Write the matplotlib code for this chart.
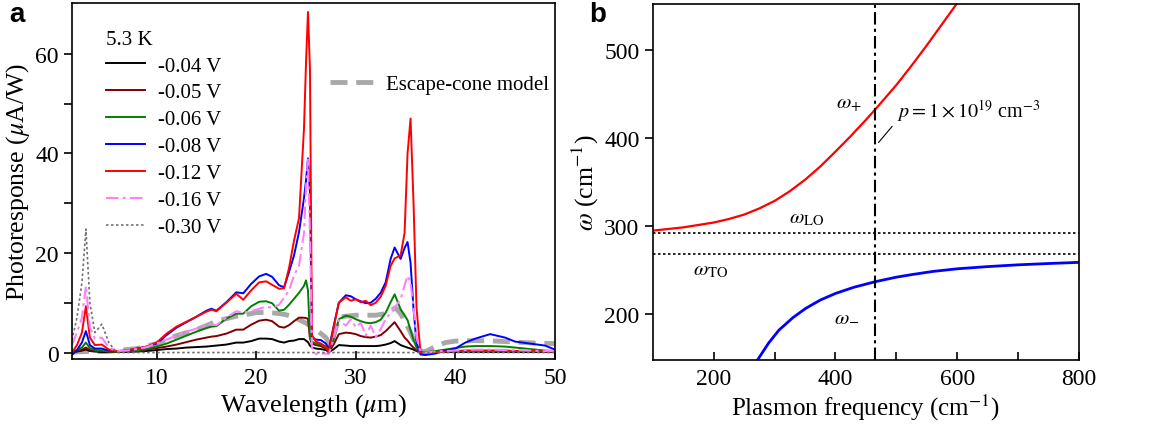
import numpy as np
import matplotlib
matplotlib.use("Agg")
import matplotlib.pyplot as plt

plt.rcParams['font.family'] = ['Liberation Serif', 'DejaVu Serif']
plt.rcParams['mathtext.fontset'] = 'stix'

# ---- panel a: photoresponse spectra ----
lam = [1.5, 2.0, 2.5, 2.9, 3.3, 3.8, 4.5, 5.2, 6, 7,
       8, 9, 10, 11, 12, 13, 14, 15, 15.5, 16,
       17, 18, 18.7, 19.5, 20.3, 21, 21.6, 22.3, 22.8, 23.3,
       23.8, 24.3, 24.8, 25.0, 25.2, 25.4, 25.6, 26, 26.5, 27,
       27.3, 27.8, 28.3, 29, 29.5, 30, 30.5, 31, 31.5, 32,
       32.5, 33, 33.5, 33.9, 34.5, 34.9, 35.2, 35.5, 35.8, 36.1,
       36.5, 37, 38, 39, 40, 41, 42, 43.5, 45, 46,
       47.5, 49, 50]

v004 = [0.0, 0.2, 0.4, 0.6, 0.3, 0.2, 0.1, 0.1, 0.1, 0.1,
        0.2, 0.3, 0.5, 0.7, 0.8, 1.0, 1.1, 1.2, 1.3, 1.4,
        1.6, 2.0, 2.0, 2.3, 2.8, 2.8, 2.7, 2.2, 2.0, 2.3,
        2.4, 2.7, 2.7, 2.4, 2.1, 1.4, 1.0, 0.8, 0.7, 0.5,
        0.1, 0.7, 1.5, 1.4, 1.3, 1.3, 1.3, 1.3, 1.3, 1.3,
        1.4, 1.6, 1.9, 2.3, 1.5, 1.2, 1.0, 0.8, 0.6, 0.3,
        0.0, 0.0, 0.1, 0.1, 0.1, 0.1, 0.1, 0.1, 0.1, 0.1,
        0.1, 0.1, 0.1]

v005 = [0.0, 0.3, 0.6, 1.0, 0.5, 0.3, 0.3, 0.2, 0.1, 0.2,
        0.3, 0.6, 0.9, 1.2, 1.6, 2.1, 2.6, 3.0, 3.2, 3.3,
        3.8, 4.6, 4.6, 5.6, 6.4, 6.6, 6.3, 5.2, 5.0, 5.5,
        6.3, 7.0, 7.0, 6.9, 6.8, 2.8, 1.8, 1.5, 1.3, 0.8,
        0.1, 1.7, 3.7, 4.0, 3.9, 3.7, 3.3, 3.1, 3.0, 3.2,
        3.5, 4.3, 5.3, 6.1, 4.3, 3.0, 2.4, 1.6, 1.0, 0.4,
        0.0, 0.1, 0.2, 0.3, 0.3, 0.4, 0.4, 0.4, 0.4, 0.3,
        0.3, 0.3, 0.2]

v006 = [0.0, 0.5, 1.0, 2.0, 0.9, 0.5, 0.4, 0.2, 0.2, 0.3,
        0.4, 0.7, 1.2, 1.8, 2.6, 3.4, 4.2, 4.9, 5.2, 5.3,
        6.8, 7.8, 7.8, 9.3, 10.2, 10.3, 9.9, 8.4, 8.6, 9.6,
        10.8, 12.0, 13.4, 14.5, 12.5, 3.0, 2.2, 1.8, 1.6, 1.0,
        0.2, 2.7, 6.7, 7.4, 7.2, 6.7, 6.3, 6.0, 5.9, 6.1,
        6.6, 8.0, 10.1, 11.7, 8.7, 7.5, 6.5, 4.5, 2.5, 1.0,
        0.0, 0.0, 0.3, 0.6, 0.9, 1.2, 1.3, 1.3, 1.2, 1.0,
        0.7, 0.4, 0.3]

v008 = [-0.5, 0.5, 2.0, 4.3, 1.5, 0.8, 0.8, 0.4, 0.3, 0.4,
        0.8, 1.2, 1.8, 3.5, 5.0, 6.1, 7.2, 8.4, 8.8, 8.4,
        10.1, 12.1, 11.9, 13.8, 15.3, 15.8, 15.2, 13.5, 13.1, 16.2,
        19.5, 24.2, 31.0, 34.5, 39.0, 32.0, 3.0, 2.6, 2.5, 1.8,
        0.7, 5.5, 10.0, 11.5, 11.3, 10.7, 10.3, 9.9, 10.0, 10.8,
        12.0, 14.1, 18.8, 21.1, 18.8, 21.0, 22.2, 18.0, 8.7, 2.0,
        -0.4, -0.5, -0.2, 0.4, 0.8, 2.0, 2.8, 3.7, 3.0, 2.2,
        1.8, 1.4, 0.6]

v012 = [0.0, 1.5, 4.0, 9.3, 3.0, 1.5, 1.6, 0.6, 0.3, 0.4,
        0.8, 1.2, 2.0, 3.8, 5.2, 6.2, 7.2, 8.2, 8.6, 8.3,
        10.0, 11.8, 10.6, 12.5, 14.1, 14.3, 13.6, 12.8, 12.9, 17.0,
        22.5, 27.0, 45.0, 58.0, 68.4, 57.0, 3.5, 2.2, 1.8, 1.2,
        0.3, 5.3, 10.0, 11.1, 10.4, 10.7, 10.1, 10.4, 9.5, 10.0,
        11.2, 13.4, 17.4, 18.9, 19.5, 24.0, 40.0, 47.0, 30.0, 9.0,
        0.0, 0.0, 0.1, 0.2, 0.3, 0.3, 0.3, 0.3, 0.3, 0.3,
        0.3, 0.2, 0.2]

v016 = [1.5, 4.0, 7.0, 13.4, 5.0, 2.8, 3.0, 1.0, 0.3, 0.4,
        0.7, 1.1, 1.8, 2.6, 3.4, 4.2, 4.8, 5.5, 5.7, 5.5,
        7.0, 8.3, 8.0, 8.3, 8.8, 9.2, 9.0, 9.6, 11.0, 12.5,
        15.5, 17.4, 24.0, 33.0, 39.0, 24.0, 1.0, -0.3, -0.3, -0.2,
        -0.3, 3.0, 6.5, 5.4, 6.7, 5.1, 6.0, 3.4, 5.4, 3.1,
        4.7, 6.7, 8.0, 9.0, 10.7, 13.5, 15.4, 14.0, 9.0, 3.0,
        0.0, 0.0, 0.2, 0.3, 0.4, 0.5, 0.6, 0.6, 0.5, 0.5,
        0.4, 0.3, 0.3]

v030 = [2.5, 7.0, 14.0, 24.8, 10.0, 4.0, 5.7, 2.0, 0.0, 0.0,
        0.0, 0.0, 0.0, 0.0, 0.0, 0.0, 0.0, 0.0, 0.0, 0.0,
        0.0, 0.0, 0.0, 0.0, 0.0, 0.0, 0.0, 0.0, 0.0, 0.0,
        0.0, 0.0, 0.0, 0.0, 0.0, 0.0, 0.0, 0.0, 0.0, 0.0,
        0.0, 0.0, 0.0, 0.0, 0.0, 0.0, 0.0, 0.0, 0.0, 0.0,
        0.0, 0.0, 0.0, 0.0, 0.0, 0.0, 0.0, 0.0, 0.0, 0.0,
        0.0, 0.0, 0.0, 0.0, 0.0, 0.0, 0.0, 0.0, 0.0, 0.0,
        0.0, 0.0, 0.0]

model_lam = [1.5, 3, 5, 8, 10, 12, 14, 15, 16, 18, 20,
             21, 22, 23, 24, 25, 26, 27, 27.5, 28, 28.5,
             30, 32, 33, 34, 34.5, 35, 35.5, 36, 36.5, 37,
             38, 39, 40, 42, 44, 46, 48, 50]
model = [0.1, 0.2, 0.2, 0.8, 1.8, 3.4, 4.6, 5.4, 6.3, 7.3, 8.0,
         8.1, 7.9, 7.6, 6.9, 5.9, 4.6, 3.0, 1.2, 5.0, 7.2,
         7.5, 7.5, 7.8, 9.0, 7.8, 6.0, 4.0, 1.8, 0.3, 0.2,
         1.2, 2.0, 2.3, 2.4, 2.3, 2.1, 1.9, 1.8]

# ---- panel b: coupled plasmon-phonon modes ----
wp_plus = [100, 150, 200, 225, 250, 275, 300, 325, 350, 375, 400, 425, 450, 465, 500, 525, 550, 575, 600]
w_plus = [294.8, 298.5, 304, 308, 313, 320, 328.5, 339.5, 352.5, 367.5, 384.5, 402, 420.5, 432, 460, 482, 505, 529, 553]
wp_minus = [272, 290, 307, 330, 351, 375, 400, 430, 465, 500, 526, 560, 600, 650, 700, 750, 800]
w_minus = [148, 167, 181.8, 196, 206.5, 216, 223.5, 230.5, 236.8, 242, 245, 248.5, 251.5, 254, 256, 257.5, 258.8]
w_LO = 292.5
w_TO = 268
wp_doping = 465

fig = plt.figure(figsize=(11.72, 4.31), dpi=100)
ax1 = fig.add_axes([0.0614, 0.1647, 0.4121, 0.826])
ax2 = fig.add_axes([0.557, 0.1624, 0.3636, 0.826])

ax1.plot(model_lam, model, color='#a8a8a8', lw=3.5, dashes=(3.5, 1.8), zorder=1)
l1, = ax1.plot(lam, v004, color='black', lw=1.4)
l2, = ax1.plot(lam, v005, color='#800000', lw=1.4)
l3, = ax1.plot(lam, v006, color='#008000', lw=1.4)
l4, = ax1.plot(lam, v008, color='#0000ff', lw=1.4)
l5, = ax1.plot(lam, v012, color='#ff0000', lw=1.4)
l6, = ax1.plot(lam, v016, color='#ff80ff', lw=1.5, dashes=(6, 2, 1.5, 2))
l7, = ax1.plot(lam, v030, color='#707070', lw=1.2, dashes=(1.5, 1.5))
lm, = ax1.plot([], [], color='#a8a8a8', lw=3.5, dashes=(3.5, 1.8))

leg1 = ax1.legend([l1, l2, l3, l4, l5, l6, l7],
                  ['-0.04 V', '-0.05 V', '-0.06 V', '-0.08 V', '-0.12 V', '-0.16 V', '-0.30 V'],
                  title='5.3 K', title_fontsize=15, fontsize=15, frameon=False,
                  loc='upper left', bbox_to_anchor=(0.07, 0.925), borderpad=0, borderaxespad=0,
                  handlelength=1.9, handletextpad=0.6, labelspacing=0.35, alignment='left')
ax1.add_artist(leg1)
ax1.legend([lm], ['Escape-cone model'], fontsize=15, frameon=False,
           loc='center left', bbox_to_anchor=(0.534, 0.772), borderpad=0, borderaxespad=0,
           handlelength=2.2, handletextpad=0.5)

ax1.set_xlim(1.5, 50)
ax1.set_ylim(-1.3, 70.2)
ax1.set_xticks([10, 20, 30, 40, 50])
ax1.set_yticks([0, 20, 40, 60])
ax1.set_yticks([10, 30, 50], minor=True)
ax1.tick_params(axis='x', direction='in', length=6, width=1.2, labelsize=17, pad=6)
ax1.tick_params(axis='y', which='both', direction='out', length=6, width=1.2, labelsize=17)
ax1.set_xlabel(r'Wavelength ($\mu$m)', fontsize=19, labelpad=2)
ax1.set_ylabel(r'Photoresponse ($\mu$A/W)', fontsize=18.5, labelpad=2)

ax2.plot(wp_plus, w_plus, color='#ff0000', lw=1.6)
ax2.plot(wp_minus, w_minus, color='#0000ff', lw=2.0)
ax2.axhline(w_LO, color='black', lw=1.2, ls=(0, (1.5, 1.5)))
ax2.axhline(w_TO, color='black', lw=1.2, ls=(0, (1.5, 1.5)))
ax2.axvline(wp_doping, color='black', lw=1.5, ls=(0, (6, 2, 1.5, 2)))
ax2.plot([471, 493], [395, 413], color='black', lw=0.8)
ax2.text(501, 432, r'$p = 1\times10^{19}$ cm$^{-3}$', fontsize=14.5, va='center', ha='left')
ax2.text(422, 439, r'$\omega_{+}$', fontsize=15, ha='center', va='center')
ax2.text(419, 197, r'$\omega_{-}$', fontsize=15, ha='center', va='center')
ax2.text(353, 309, r'$\omega_{\rm LO}$', fontsize=15, ha='center', va='center')
ax2.text(195, 250, r'$\omega_{\rm TO}$', fontsize=15, ha='center', va='center')

ax2.set_xlim(100, 800)
ax2.set_ylim(148, 552)
ax2.set_xticks([200, 400, 600, 800])
ax2.set_xticks([300, 500, 700], minor=True)
ax2.set_yticks([200, 300, 400, 500])
ax2.tick_params(axis='x', which='both', direction='in', length=6, width=1.2, labelsize=17, pad=6)
ax2.tick_params(axis='y', direction='out', length=6, width=1.2, labelsize=17)
ax2.set_xlabel(r'Plasmon frequency (cm$^{-1}$)', fontsize=18, labelpad=2)
ax2.set_ylabel(r'$\omega$ (cm$^{-1}$)', fontsize=18.5, labelpad=2)

for ax in (ax1, ax2):
    for s in ax.spines.values():
        s.set_linewidth(1.2)

fig.text(0.008, 0.995, 'a', fontsize=20, fontweight='bold', family='Liberation Sans', va='top')
fig.text(0.503, 0.995, 'b', fontsize=20, fontweight='bold', family='Liberation Sans', va='top')

fig.savefig('out.png', dpi=100)
